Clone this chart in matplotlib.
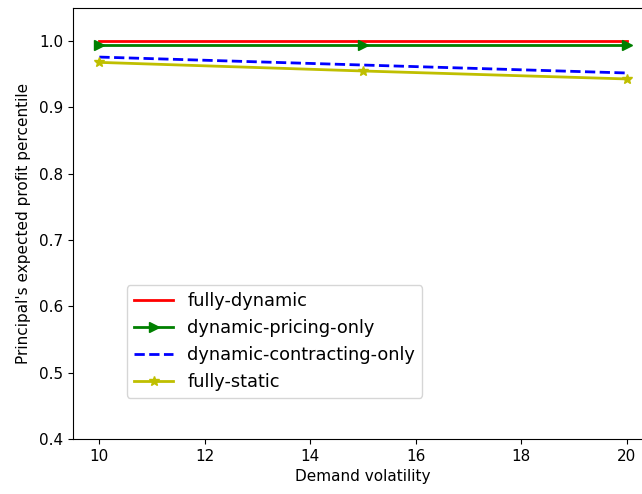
import matplotlib
matplotlib.use('Agg')
import matplotlib.pyplot as plt

volatility = [10, 15, 20]
fully_dynamic = [1.0, 1.0, 1.0]
pricing_only = [0.994, 0.994, 0.994]
contracting_only = [0.976, 0.964, 0.952]
fully_static = [0.968, 0.955, 0.943]

fig = plt.figure(figsize=(6.42, 4.94), dpi=100)
# axes run past the right edge of the figure, as in the reference
ax = fig.add_axes([73 / 642, 55 / 494, 580 / 642, 431 / 494])

ax.plot(volatility, fully_dynamic, 'r-', linewidth=2, label='fully-dynamic')
ax.plot(volatility, pricing_only, 'g->', linewidth=2, markersize=7, label='dynamic-pricing-only')
ax.plot(volatility, contracting_only, 'b--', linewidth=2, label='dynamic-contracting-only')
ax.plot(volatility, fully_static, 'y-*', linewidth=2, markersize=7, label='fully-static')

ax.set_xlim(9.5, 20.5)
ax.set_ylim(0.4, 1.05)
ax.set_xticks([10, 12, 14, 16, 18, 20])
ax.set_yticks([0.4, 0.5, 0.6, 0.7, 0.8, 0.9, 1.0])
ax.tick_params(labelsize=11)
ax.set_xlabel('Demand volatility', fontsize=11)
ax.set_ylabel("Principal's expected profit percentile", fontsize=11, labelpad=6)

ax.legend(fontsize=12.8, loc='lower left', bbox_to_anchor=(0.093, 0.095), borderaxespad=0,
          handlelength=2.2)

fig.savefig('out.png', dpi=100)
